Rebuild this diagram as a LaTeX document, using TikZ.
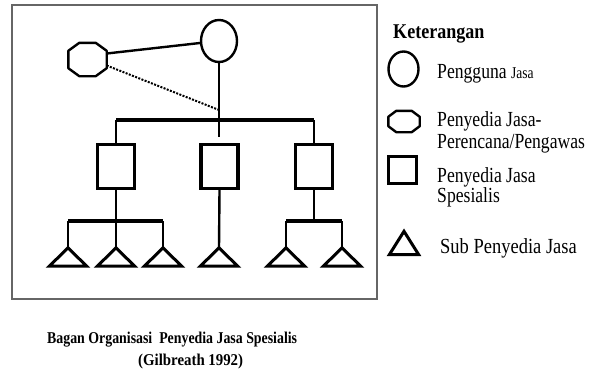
\documentclass[tikz,border=0pt]{standalone}
\usepackage{fontspec}
\usepackage{graphicx}
\setmainfont{Liberation Serif}
\usetikzlibrary{shapes.geometric}

% narrow, tall lettering
\newcommand{\narrowtext}[2][0.82]{\scalebox{#1}[1]{#2}}

\tikzset{
  line/.style={line width=2.4pt, line cap=butt},
  thickbar/.style={line width=4.2pt},
  subbar/.style={line width=3.4pt},
  client/.style={ellipse, draw, line width=2.4pt, inner sep=0pt},
  slot/.style={rectangle, inner sep=0pt},
  octline/.style={line width=2.4pt, line join=round},
  specialist/.style={rectangle, draw, line width=3.4pt, inner sep=0pt,
    minimum width=37pt, minimum height=44pt},
  subslot/.style={slot, minimum width=37pt, minimum height=18pt},
  triline/.style={line width=3pt, line join=miter},
  legtext/.style={anchor=base west, inner sep=0pt, font=\fontsize{21.5}{23}\selectfont},
  captext/.style={anchor=base west, inner sep=0pt, font=\fontsize{16.5}{18}\selectfont\bfseries},
}

% octagon drawn round a named node: #1 node, #2 horizontal chamfer, #3 vertical chamfer
\newcommand{\octagonat}[3]{%
  \draw[octline] ([xshift=#2]#1.north west) -- ([xshift=-#2]#1.north east)
    -- ([yshift=-#3]#1.north east) -- ([yshift=#3]#1.south east)
    -- ([xshift=-#2]#1.south east) -- ([xshift=#2]#1.south west)
    -- ([yshift=#3]#1.south west) -- ([yshift=-#3]#1.north west) -- cycle;}

\begin{document}
\begin{tikzpicture}[x=1pt, y=-1pt]
\useasboundingbox (0,0) rectangle (593,370);

% outer frame
\draw[line width=1.6pt, black!60] (12,5) rectangle (377,299);

% service user and planner/supervisor
\node[client, minimum width=36pt, minimum height=42pt] (C) at (219,41) {};
\node[slot, minimum width=38pt, minimum height=33pt] (P) at (87.5,59.5) {};
\octagonat{P}{11pt}{8pt}

% specialist contractors
\node[specialist] (B1) at (116,166.5) {};
\node[specialist] (B2) at (219.5,166.5) {};
\node[specialist] (B3) at (314,166.5) {};

% sub-contractors
\foreach \n/\x in {t1/68, t2/116, t3/163, t4/219, t5/286, t6/342}
  \node[subslot] (\n) at (\x,257) {};
\foreach \n in {t1,t2,t3,t4,t5,t6}
  \draw[triline] (\n.south west) -- (\n.north) -- (\n.south east) -- cycle;

% junction points
\coordinate (bar) at (219,120);
\coordinate (J) at (219,110);
\coordinate (midend) at (219,137);
\coordinate (lsub) at (116,221);
\coordinate (rsub) at (314,221);

% connectors
\draw[line] ([yshift=6pt]P.east) -- (C.186);
\draw[line width=2pt, dash pattern=on 2pt off 1.4pt] ([yshift=-6pt]P.east) -- (J);
\draw[line] (C.south) -- (midend);
\draw[thickbar] (B1.north |- bar) -- (B3.north |- bar);
\draw[line] (B1.north |- bar) -- (B1.north);
\draw[line] (B3.north |- bar) -- (B3.north);

\draw[line] (B1.south) -- (lsub);
\draw[subbar] (t1.north |- lsub) -- (t3.north |- lsub);
\foreach \n in {t1,t2,t3}
  \draw[line] (\n.north |- lsub) -- (\n.north);
\draw[line] (B2.south) -- (t4.north);
\draw[line] (B3.south) -- (rsub);
\draw[subbar] (t5.north |- rsub) -- (t6.north |- rsub);
\foreach \n in {t5,t6}
  \draw[line] (\n.north |- rsub) -- (\n.north);

% legend
\node[anchor=base west, inner sep=0pt, font=\fontsize{21}{23}\selectfont\bfseries] (K) at (393,38.5) {\narrowtext[0.86]{Keterangan}};
\node[client, minimum width=30pt, minimum height=35pt] (LC) at (403.5,69) {};
\node[legtext] (LCt) at (437,78) {\narrowtext{Pengguna {\fontsize{16.5}{18}\selectfont Jasa}}};
\node[slot, minimum width=31pt, minimum height=21pt] (LP) at (404,121.5) {};
\octagonat{LP}{8pt}{6pt}
\node[legtext] (LPt1) at (437,126) {\narrowtext{Penyedia Jasa-}};
\node[legtext] (LPt2) at (437,148) {\narrowtext{Perencana/Pengawas}};
\node[specialist, minimum width=28pt, minimum height=27pt] (LB) at (402.5,170) {};
\node[legtext] (LBt1) at (437,182) {\narrowtext{Penyedia Jasa}};
\node[legtext] (LBt2) at (437,202) {\narrowtext{Spesialis}};
\node[subslot, minimum width=29pt, minimum height=23pt] (LT) at (404,243) {};
\draw[triline] (LT.south west) -- (LT.north) -- (LT.south east) -- cycle;
\node[legtext] (LTt) at (440,253) {\narrowtext[0.86]{Sub Penyedia Jasa}};

% caption
\node[captext] (cap1) at (47,343) {\narrowtext[0.84]{Bagan Organisasi\ \ Penyedia Jasa Spesialis}};
\node[captext] (cap2) at (138,365) {\narrowtext[0.9]{(Gilbreath 1992)}};
\end{tikzpicture}
\end{document}
